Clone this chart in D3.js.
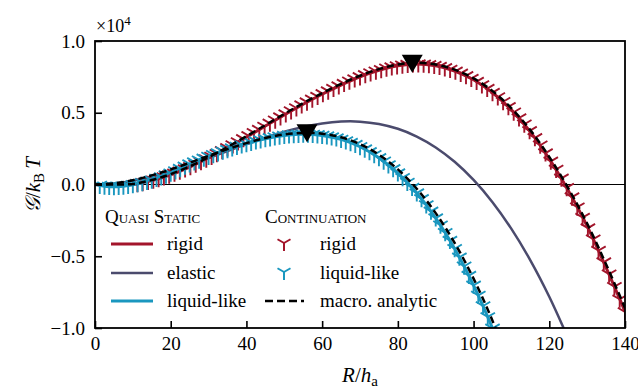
<!DOCTYPE html>
<html><head><meta charset="utf-8">
<script src="https://cdn.jsdelivr.net/npm/d3@7"></script>
<style>body{margin:0;background:#fff}svg{display:block}
svg text{font-family:"Liberation Serif","Times New Roman",Tinos,Times,"DejaVu Serif",serif !important;fill:#000}</style>
</head><body><svg id="c" width="638" height="390"></svg>
<script>
// ---------- data (G in units of 1e4 kBT) ----------
const xTicks = [0, 20, 40, 60, 80, 100, 120, 140];
const yTicks = [-1.0, -0.5, 0.0, 0.5, 1.0];
const yTickLabels = ["\u22121.0", "\u22120.5", "0.0", "0.5", "1.0"];

// quasi static
const rigidR  = [0,5,10,15,20,25,30,35,40,45,50,55,60,65,70,75,80,85,90,95,100,105,110,115,120,125,130,135,140];
const rigidQS = [0,-0.008,0,0.027,0.068,0.1216,0.1848,0.2551,0.3303,0.4077,0.4849,0.5596,0.6291,0.6930,0.7500,0.7955,0.8273,0.8399,0.8269,0.7910,0.7296,0.6402,0.5202,0.3671,0.1784,-0.042,-0.290,-0.580,-0.885];
const elasticR  = [0,5,10,15,20,25,30,35,40,45,50,55,60,65,70,75,80,85,90,95,100,105,110,115,120,125];
const elasticQS = [0,0.0069,0.0262,0.0557,0.0932,0.1367,0.1839,0.2327,0.2810,0.3265,0.3672,0.4008,0.4252,0.4384,0.4380,0.4219,0.3881,0.3343,0.2584,0.1582,0.0316,-0.1236,-0.3095,-0.5283,-0.7822,-1.0733];
const liquidR  = [0,2.5,5,7.5,10,12.5,15,17.5,20,22.5,25,30,35,40,45,50,55,60,65,70,75,80,85,90,95,100,105,110];
const liquidQS = [0,-0.0119,-0.0159,-0.0115,-0.0018,0.0125,0.0302,0.0529,0.0781,0.1106,0.1428,0.1951,0.2430,0.2843,0.3180,0.3409,0.3500,0.3421,0.3142,0.2632,0.1859,0.0793,-0.0597,-0.2343,-0.4475,-0.7024,-1.0022,-1.35];

// continuation
const contRigidR = [11.2,12.6,14.0,15.4,16.8,18.2,19.6,21.0,22.4,23.8,25.2,26.6,28.0,29.4,30.8,32.2,33.6,35.0,36.4,37.8,39.2,40.6,42.0,43.4,44.8,46.2,47.6,49.0,50.4,51.8,53.2,54.6,56.0,57.4,58.8,60.2,61.6,63.0,64.4,65.8,67.2,68.6,70.0,71.4,72.8,74.2,75.6,77.0,78.4,79.8,81.2,82.6,84.0,85.4,86.8,88.2,89.6,91.0,92.4,93.8,95.2,96.6,98.0,99.4,100.8,102.2,103.6,105.0,106.4,107.8,109.2,110.6,112.0,113.4,114.8,116.2,117.6,119.0,120.4,121.8,123.2,124.6,126.0,127.4,128.8,130.2,131.6,133.0,134.4,135.8,137.2,138.6,140.0];
const contRigidG = [0.0051,0.0123,0.0208,0.0297,0.0401,0.0517,0.0644,0.0780,0.0925,0.1078,0.1240,0.1409,0.1585,0.1768,0.1956,0.2150,0.2349,0.2552,0.2758,0.2968,0.3181,0.3395,0.3611,0.3828,0.4046,0.4263,0.4480,0.4696,0.4911,0.5122,0.5332,0.5538,0.5740,0.5937,0.6130,0.6318,0.6506,0.6688,0.6863,0.7031,0.7198,0.7350,0.7500,0.7642,0.7773,0.7893,0.8003,0.8101,0.8186,0.8258,0.8317,0.8361,0.8391,0.8396,0.8377,0.8341,0.8288,0.8217,0.8127,0.8019,0.7891,0.7743,0.7574,0.7384,0.7173,0.6939,0.6682,0.6402,0.6098,0.5769,0.5416,0.5036,0.4631,0.4199,0.3739,0.3252,0.2736,0.2191,0.1616,0.105,0.043,-0.022,-0.088,-0.158,-0.230,-0.304,-0.381,-0.460,-0.541,-0.625,-0.712,-0.800,-0.888];
const contLiquidR = [1.25,2.5,3.75,5,6.25,7.5,8.75,10,11.25,12.5,13.75,15,16.25,17.5,18.75,20,21.25,22.5,23.75,25,26.25,27.5,28.75,30,31.25,32.5,33.75,35,36.25,37.5,38.75,40,41.25,42.5,43.75,45,46.25,47.5,48.75,50,51.25,52.5,53.75,55,56.25,57.5,58.75,60,61.25,62.5,63.75,65,66.25,67.5,68.75,70,71.25,72.5,73.75,75,76.25,77.5,78.75,80,81.25,82.5,83.75,85,86.25,87.5,88.75,90,91.25,92.5,93.75,95,96.25,97.5,98.75,100,101.25,102.5,103.75,105];
const contLiquidG = [-0.0065,-0.0119,-0.0144,-0.0159,-0.0146,-0.0115,-0.0075,-0.0018,0.0050,0.0125,0.0211,0.0302,0.0413,0.0529,0.0653,0.0781,0.0942,0.1106,0.1271,0.1428,0.1566,0.1694,0.1823,0.1951,0.2078,0.2200,0.2318,0.2430,0.2538,0.2644,0.2745,0.2843,0.2935,0.3023,0.3104,0.3180,0.3248,0.3310,0.3363,0.3409,0.3446,0.3474,0.3492,0.3500,0.3497,0.3484,0.3458,0.3421,0.3372,0.3309,0.3233,0.3142,0.3038,0.2918,0.2783,0.2632,0.2465,0.2280,0.2079,0.1859,0.1622,0.1365,0.1089,0.0793,0.0477,0.0141,-0.0217,-0.0597,-0.0999,-0.1424,-0.1871,-0.2343,-0.2838,-0.3359,-0.3904,-0.4475,-0.5072,-0.5696,-0.6346,-0.7024,-0.7731,-0.8465,-0.9229,-1.0022];

// macro analytic
const anaRigidR = [0,5,10,15,20,25,30,35,40,45,50,55,60,65,70,75,80,85,90,95,100,105,110,115,120,125,130,135,140];
const anaRigidG = [0,0,0.004,0.031,0.072,0.126,0.190,0.261,0.337,0.414,0.492,0.567,0.637,0.701,0.758,0.804,0.836,0.848,0.836,0.801,0.740,0.651,0.531,0.379,0.192,-0.025,-0.272,-0.556,-0.860];
const anaLiquidR = [0,5,10,15,20,25,30,35,40,45,50,55,60,65,70,75,80,85,90,95,100,105,110];
const anaLiquidG = [0,0.0081,0.0303,0.0637,0.1050,0.1512,0.1993,0.2461,0.2886,0.3238,0.3485,0.3597,0.3542,0.3291,0.2813,0.2076,0.1050,-0.0296,-0.1993,-0.4070,-0.6560,-0.9492,-1.2899];

// barrier maxima
const peakR = [83.8, 56.0];
const peakG = [0.845, 0.360];

// ---------- drawing ----------
const RED = "#a3152b", BLUE = "#4b4b6d", CYAN = "#1a97bf";
const FONT = '"Liberation Serif","Times New Roman",Tinos,Times,"DejaVu Serif",serif';
const svg = d3.select("#c").attr("font-family", FONT);
svg.append("rect").attr("width", 638).attr("height", 390).attr("fill", "#fff");
const L = 95, Rt = 625, T = 41, B = 328;
const x = d3.scaleLinear().domain([0, 140]).range([L, Rt]);
const y = d3.scaleLinear().domain([-1, 1]).range([B, T]);

svg.append("clipPath").attr("id", "clip").append("rect")
  .attr("x", L).attr("y", T).attr("width", Rt - L).attr("height", B - T);
const plot = svg.append("g").attr("clip-path", "url(#clip)");

const zip = (a, b) => a.map((v, i) => [v, b[i]]);
const line = d3.line().x(d => x(d[0])).y(d => y(d[1])).curve(d3.curveCatmullRom);

plot.append("line").attr("x1", L).attr("x2", Rt).attr("y1", y(0)).attr("y2", y(0))
  .attr("stroke", "#000").attr("stroke-width", 1.2);

plot.append("path").attr("d", line(zip(rigidR, rigidQS))).attr("fill", "none").attr("stroke", RED).attr("stroke-width", 3);
plot.append("path").attr("d", line(zip(elasticR, elasticQS))).attr("fill", "none").attr("stroke", BLUE).attr("stroke-width", 2.5);
plot.append("path").attr("d", line(zip(liquidR, liquidQS))).attr("fill", "none").attr("stroke", CYAN).attr("stroke-width", 3);

const triPath = "M0,0V8.5M0,0L-7.2,-4.2M0,0L7.2,-4.2";
function markers(data, col) {
  plot.append("g").selectAll("path").data(data).join("path")
    .attr("d", triPath).attr("transform", d => `translate(${x(d[0])},${y(d[1])})`)
    .attr("fill", "none").attr("stroke", col).attr("stroke-width", 1.9);
}
markers(zip(contRigidR, contRigidG), RED);
markers(zip(contLiquidR, contLiquidG), CYAN);

[[anaRigidR, anaRigidG], [anaLiquidR, anaLiquidG]].forEach(([r, g]) => {
  plot.append("path").attr("d", line(zip(r, g))).attr("fill", "none")
    .attr("stroke", "#000").attr("stroke-width", 2.5).attr("stroke-dasharray", "7,4");
});

plot.append("g").selectAll("path").data(zip(peakR, peakG)).join("path")
  .attr("d", "M-10.5,-8.5L10.5,-8.5L0,9.5Z")
  .attr("transform", d => `translate(${x(d[0])},${y(d[1])})`).attr("fill", "#000");

const xa = svg.append("g").attr("transform", `translate(0,${B})`)
  .call(d3.axisBottom(x).tickValues(xTicks).tickSize(-7).tickPadding(9).tickFormat(d3.format("d")));
const ya = svg.append("g").attr("transform", `translate(${L},0)`)
  .call(d3.axisLeft(y).tickValues(yTicks).tickSize(-7).tickPadding(10).tickFormat((d, i) => yTickLabels[i]));
[xa, ya].forEach(a => {
  a.attr("font-family", FONT).attr("font-size", 19);
  a.select(".domain").remove();
  a.selectAll("line").attr("stroke", "#000").attr("stroke-width", 1.6);
});
svg.append("rect").attr("x", L).attr("y", T).attr("width", Rt - L).attr("height", B - T)
  .attr("fill", "none").attr("stroke", "#000").attr("stroke-width", 1.8);

const mt = svg.append("text").attr("x", 96).attr("y", 32).attr("font-size", 18);
mt.append("tspan").text("\u00d710");
mt.append("tspan").attr("font-size", 13).attr("dy", -7).text("4");

const xl = svg.append("text").attr("x", 360).attr("y", 382).attr("text-anchor", "middle").attr("font-size", 21);
xl.append("tspan").attr("font-style", "italic").text("R");
xl.append("tspan").text("/");
xl.append("tspan").attr("font-style", "italic").text("h");
xl.append("tspan").attr("font-size", 15).attr("dy", 4).text("a");

const yl = svg.append("text").attr("transform", "translate(40,185) rotate(-90)").attr("text-anchor", "middle").attr("font-size", 21);
yl.append("tspan").attr("font-style", "italic").text("\ud835\udca2");
yl.append("tspan").text("/");
yl.append("tspan").attr("font-style", "italic").text("k");
yl.append("tspan").attr("font-size", 15).attr("dy", 4).text("B");
yl.append("tspan").attr("font-style", "italic").attr("dy", -4).text("\u2009T");

const lg = svg.append("g").attr("font-size", 19);
lg.append("text").attr("x", 105).attr("y", 223).attr("font-variant", "small-caps").text("Quasi Static");
lg.append("text").attr("x", 265).attr("y", 223).attr("font-variant", "small-caps").text("Continuation");
const rowsY = [244, 273, 301];
const leftItems = [["rigid", RED, 3], ["elastic", BLUE, 2.5], ["liquid-like", CYAN, 3]];
leftItems.forEach((it, i) => {
  lg.append("line").attr("x1", 111).attr("x2", 153).attr("y1", rowsY[i]).attr("y2", rowsY[i])
    .attr("stroke", it[1]).attr("stroke-width", it[2]);
  lg.append("text").attr("x", 167).attr("y", rowsY[i] + 6).text(it[0]);
});
[["rigid", RED], ["liquid-like", CYAN]].forEach((it, i) => {
  lg.append("path").attr("d", "M0,0V8M0,0L-6.5,-3.75M0,0L6.5,-3.75")
    .attr("transform", `translate(284,${rowsY[i] - 1})`).attr("fill", "none").attr("stroke", it[1]).attr("stroke-width", 2);
  lg.append("text").attr("x", 320).attr("y", rowsY[i] + 6).text(it[0]);
});
lg.append("line").attr("x1", 265).attr("x2", 304).attr("y1", rowsY[2]).attr("y2", rowsY[2])
  .attr("stroke", "#000").attr("stroke-width", 2.5).attr("stroke-dasharray", "8,4");
lg.append("text").attr("x", 320).attr("y", rowsY[2] + 6).text("macro. analytic");
</script></body></html>
